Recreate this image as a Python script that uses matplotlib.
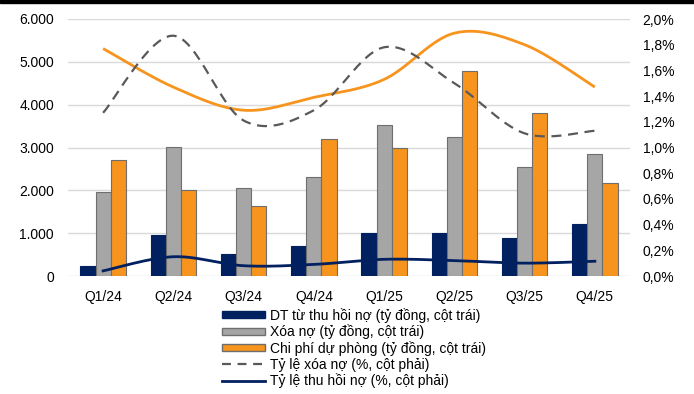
import numpy as np
import matplotlib
matplotlib.use("Agg")
import matplotlib.pyplot as plt
from matplotlib.patches import Patch
from matplotlib.lines import Line2D
from matplotlib.ticker import FuncFormatter

plt.rcParams['font.family'] = ['Liberation Sans', 'DejaVu Sans']

categories = ["Q1/24", "Q2/24", "Q3/24", "Q4/24", "Q1/25", "Q2/25", "Q3/25", "Q4/25"]
dt_thu_hoi = [240, 960, 515, 690, 1000, 1000, 890, 1215]
xoa_no = [1970, 3020, 2065, 2320, 3520, 3235, 2555, 2845]
chi_phi_du_phong = [2705, 2010, 1640, 3210, 2985, 4790, 3795, 2165]
ty_le_xoa_no = [1.27, 1.87, 1.21, 1.29, 1.78, 1.50, 1.11, 1.13]
ty_le_thu_hoi = [0.04, 0.15, 0.08, 0.09, 0.13, 0.12, 0.10, 0.115]
ty_le_orange = [1.77, 1.47, 1.29, 1.39, 1.53, 1.89, 1.80, 1.47]

labels = ["DT từ thu hồi nợ (tỷ đồng, cột trái)",
          "Xóa nợ (tỷ đồng, cột trái)",
          "Chi phí dự phòng (tỷ đồng, cột trái)",
          "Tỷ lệ xóa nợ (%, cột phải)",
          "Tỷ lệ thu hồi nợ (%, cột phải)"]

NAVY = "#002060"
GRAY = "#A6A6A6"
GRAY_EDGE = "#6E6E6E"
ORANGE = "#F7941D"
DASH = "#595959"


def smooth(x, y, n=30):
    x = np.asarray(x, float)
    y = np.asarray(y, float)
    px = np.concatenate([[x[0]], x, [x[-1]]])
    py = np.concatenate([[y[0]], y, [y[-1]]])
    xs, ys = [], []
    t = np.linspace(0, 1, n)
    for i in range(1, len(px) - 2):
        p0x, p1x, p2x, p3x = px[i - 1], px[i], px[i + 1], px[i + 2]
        p0y, p1y, p2y, p3y = py[i - 1], py[i], py[i + 1], py[i + 2]
        c1x = p1x + (p2x - p0x) / 6
        c1y = p1y + (p2y - p0y) / 6
        c2x = p2x - (p3x - p1x) / 6
        c2y = p2y - (p3y - p1y) / 6
        bx = (1 - t) ** 3 * p1x + 3 * (1 - t) ** 2 * t * c1x + 3 * (1 - t) * t ** 2 * c2x + t ** 3 * p2x
        by = (1 - t) ** 3 * p1y + 3 * (1 - t) ** 2 * t * c1y + 3 * (1 - t) * t ** 2 * c2y + t ** 3 * p2y
        xs.append(bx)
        ys.append(by)
    return np.concatenate(xs), np.concatenate(ys)


fig = plt.figure(figsize=(6.94, 3.94), dpi=100)
ax = fig.add_axes([68 / 694, 1 - 276 / 394, 562 / 694, 257 / 394])
x = np.arange(len(categories))
w = 0.215
ax.bar(x - w, dt_thu_hoi, w, color=NAVY, edgecolor=NAVY, linewidth=0.8, zorder=3)
ax.bar(x, xoa_no, w, color=GRAY, edgecolor=GRAY_EDGE, linewidth=0.8, zorder=3)
ax.bar(x + w, chi_phi_du_phong, w, color=ORANGE, edgecolor=GRAY_EDGE, linewidth=0.8, zorder=3)
ax.set_xlim(-0.5, len(categories) - 0.5)
ax.set_ylim(0, 6000)
ax.set_yticks(np.arange(0, 6001, 1000))
ax.yaxis.set_major_formatter(FuncFormatter(lambda v, p: f"{int(v):,}".replace(",", ".")))
ax.set_xticks(x)
ax.set_xticklabels(categories)
ax.grid(axis='y', color="#D9D9D9", linewidth=1.0, zorder=0)
ax.set_axisbelow(True)
for s in ax.spines.values():
    s.set_visible(False)
ax.tick_params(axis='both', length=0, labelsize=10, colors="black")
ax.tick_params(axis='x', pad=10)
ax.tick_params(axis='y', pad=10)

ax2 = ax.twinx()
ax2.set_ylim(0, 2.0)
ax2.set_yticks(np.arange(0, 2.01, 0.2))
ax2.yaxis.set_major_formatter(FuncFormatter(lambda v, p: f"{v:.1f}%".replace(".", ",")))
for s in ax2.spines.values():
    s.set_visible(False)
ax2.tick_params(axis='y', length=0, labelsize=10, pad=9)

sx, sy = smooth(x, ty_le_orange)
ax2.plot(sx, sy, color=ORANGE, lw=2.0, solid_capstyle='butt', zorder=4)
sx, sy = smooth(x, ty_le_xoa_no)
ax2.plot(sx, sy, color=DASH, lw=1.6, dashes=(4.5, 3), zorder=4)
sx, sy = smooth(x, ty_le_thu_hoi)
ax2.plot(sx, sy, color=NAVY, lw=2.0, zorder=4)

handles = [Patch(facecolor=NAVY, edgecolor=NAVY),
           Patch(facecolor=GRAY, edgecolor=GRAY_EDGE),
           Patch(facecolor=ORANGE, edgecolor=GRAY_EDGE),
           Line2D([], [], color=DASH, lw=1.6, dashes=(4, 3)),
           Line2D([], [], color=NAVY, lw=2.0)]
fig.legend(handles, labels, loc='center left', bbox_to_anchor=(221.5 / 694, 1 - 348 / 394),
           frameon=False, fontsize=10, handlelength=3.13, handleheight=0.42,
           handletextpad=0.36, labelspacing=0.12, borderpad=0, borderaxespad=0)

fig.patches.append(plt.Rectangle((0, 1 - 3 / 394), 1, 3 / 394, transform=fig.transFigure,
                                 color="black", zorder=10))
fig.savefig("out.png", dpi=100)
